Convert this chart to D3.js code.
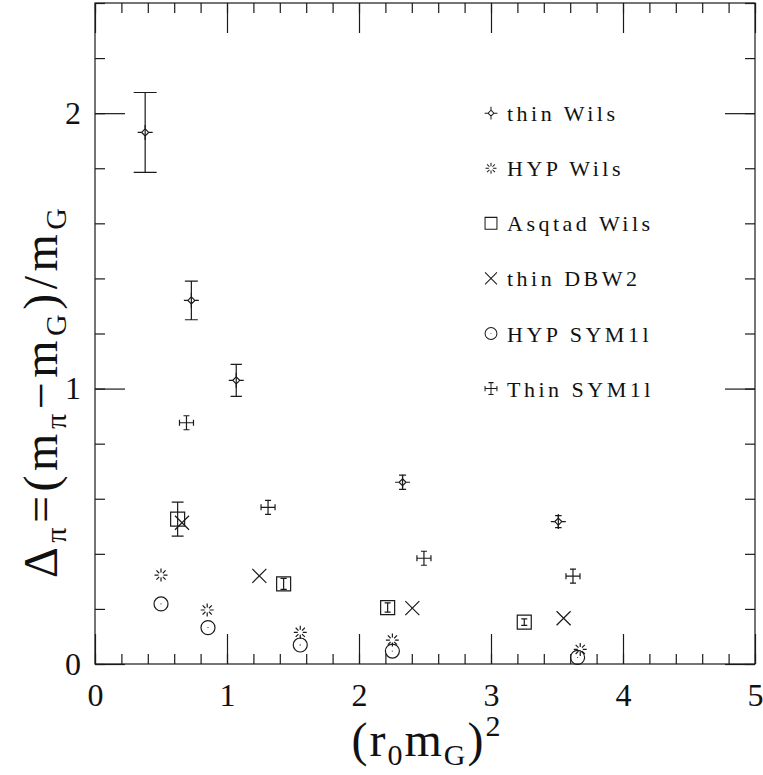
<!DOCTYPE html>
<html>
<head>
<meta charset="utf-8">
<script src="https://cdn.jsdelivr.net/npm/d3@7"></script>
<style>
body { margin: 0; background: #fff; }
svg { display: block; }
text { font-family: "Liberation Serif", serif; fill: #111; }
</style>
</head>
<body>
<div id="chart"></div>
<script>
// values
var thinWilsX = [0.38, 0.73, 1.07, 2.33, 3.51],
thinWilsY = [1.93, 1.32, 1.03, 0.66, 0.517],
thinWilsErr = [0.145, 0.07, 0.058, 0.026, 0.022];

var hypWilsX = [0.50, 0.85, 1.555, 2.253, 3.676],
hypWilsY = [0.323, 0.196, 0.115, 0.087, 0.053];

var asqtadX = [0.626, 1.429, 2.217, 3.252],
asqtadY = [0.526, 0.291, 0.205, 0.152],
asqtadErr = [0.062, 0.02, 0.017, 0.012];

var dbw2X = [0.659, 1.245, 2.404, 3.55],
dbw2Y = [0.513, 0.320, 0.203, 0.166];

var hypSymX = [0.50, 0.856, 1.555, 2.253, 3.656],
hypSymY = [0.218, 0.132, 0.069, 0.047, 0.024];

var thinSymX = [0.693, 1.311, 2.492, 3.621],
thinSymY = [0.876, 0.569, 0.384, 0.319];

var legendLabels = ["thin Wils", "HYP Wils", "Asqtad Wils", "thin DBW2", "HYP SYM1l", "Thin SYM1l"];
var xTicks = [0, 1, 2, 3, 4, 5],
yTicks = [0, 1, 2];

var margin = {top: 3, right: 8, bottom: 111, left: 95},
width = 763 - margin.left - margin.right,
height = 775 - margin.top - margin.bottom;

var x = d3.scaleLinear().domain([0, 5]).range([0, width]);
var y = d3.scaleLinear().domain([0, 2.4]).range([height, 0]);

var svg = d3.select("#chart").append("svg")
.attr("width", 763)
.attr("height", 775)
.append("g")
.attr("transform", "translate(" + margin.left + "," + margin.top + ")");

var ink = "#1a1a1a", lw = 1.2;

// frame
svg.append("rect")
.attr("width", width).attr("height", height)
.attr("fill", "none").attr("stroke", ink).attr("stroke-width", lw);

var xMinor = d3.range(0, 5.001, 0.2), yMinor = d3.range(0, 2.401, 0.2);

function styleAxis(g) {
g.select(".domain").remove();
g.selectAll("line").attr("stroke", ink).attr("stroke-width", lw);
g.selectAll("text").attr("font-family", "Liberation Serif").attr("font-size", 32).attr("fill", ink);
}

// ticks point inward on every side
svg.append("g").attr("transform", "translate(0," + height + ")")
.call(d3.axisBottom(x).tickValues(xMinor).tickSize(-10).tickFormat(""))
.call(styleAxis);
svg.append("g").attr("transform", "translate(0," + height + ")")
.call(d3.axisBottom(x).tickValues(xTicks).tickSize(-30).tickPadding(19).tickFormat(d3.format("d")))
.call(styleAxis);
svg.append("g")
.call(d3.axisTop(x).tickValues(xMinor).tickSize(-10).tickFormat(""))
.call(styleAxis);
svg.append("g")
.call(d3.axisTop(x).tickValues(xTicks).tickSize(-30).tickFormat(""))
.call(styleAxis);
svg.append("g")
.call(d3.axisLeft(y).tickValues(yMinor).tickSize(-10).tickFormat(""))
.call(styleAxis);
svg.append("g")
.call(d3.axisLeft(y).tickValues(yTicks).tickSize(-30).tickPadding(14).tickFormat(d3.format("d")))
.call(styleAxis);
svg.append("g").attr("transform", "translate(" + width + ",0)")
.call(d3.axisRight(y).tickValues(yMinor).tickSize(-10).tickFormat(""))
.call(styleAxis);
svg.append("g").attr("transform", "translate(" + width + ",0)")
.call(d3.axisRight(y).tickValues(yTicks).tickSize(-30).tickFormat(""))
.call(styleAxis);

// symbol shapes, centred on 0,0
var shapes = {
thinWils: "M0,-3.5L3.5,0L0,3.5L-3.5,0Z M0,-3.5V-7.5 M0,3.5V7.5 M-3.5,0H-7.5 M3.5,0H7.5",
hypWils: d3.range(8).map(function(k) {
    var a = k * Math.PI / 4, c = Math.cos(a), s = Math.sin(a);
    return "M" + (2.5 * c) + "," + (2.5 * s) + "L" + (6.5 * c) + "," + (6.5 * s);
}).join(" "),
asqtad: "M-7,-7H7V7H-7Z",
dbw2: "M-7,-7L7,7 M-7,7L7,-7",
hypSym: d3.arc()({innerRadius: 0, outerRadius: 7, startAngle: 0, endAngle: 2 * Math.PI}) + " M0,-0.4V0.4",
thinSym: "M-7,0H7 M0,-7V7 M-7,-3V3 M7,-3V3 M-3,-7H3 M-3,7H3"
};

var capScale = d3.scaleLinear().domain([10, 80]).range([6, 23]).clamp(true);

function errorBars(xs, ys, es) {
var g = svg.append("g").attr("stroke", ink).attr("stroke-width", lw).attr("fill", "none");
xs.forEach(function(xv, i) {
    var y0 = y(ys[i] - es[i]), y1 = y(ys[i] + es[i]), c = capScale(y0 - y1) / 2;
    g.append("path").attr("d",
        "M" + x(xv) + "," + y0 + "V" + y1 +
        "M" + (x(xv) - c) + "," + y0 + "H" + (x(xv) + c) +
        "M" + (x(xv) - c) + "," + y1 + "H" + (x(xv) + c));
});
}

function points(xs, ys, shape) {
svg.append("g").selectAll("path")
    .data(xs).enter().append("path")
    .attr("transform", function(d, i) { return "translate(" + x(d) + "," + y(ys[i]) + ")"; })
    .attr("d", shapes[shape])
    .attr("fill", "none").attr("stroke", ink).attr("stroke-width", lw);
}

errorBars(thinWilsX, thinWilsY, thinWilsErr);
errorBars(asqtadX, asqtadY, asqtadErr);
points(thinWilsX, thinWilsY, "thinWils");
points(hypWilsX, hypWilsY, "hypWils");
points(asqtadX, asqtadY, "asqtad");
points(dbw2X, dbw2Y, "dbw2");
points(hypSymX, hypSymY, "hypSym");
points(thinSymX, thinSymY, "thinSym");

// legend sits in data coordinates: x = 3, y = 2.0, 1.8, ...
var legendKeys = ["thinWils", "hypWils", "asqtad", "dbw2", "hypSym", "thinSym"];
var legend = svg.append("g").selectAll("g")
.data(legendLabels).enter().append("g")
.attr("transform", function(d, i) { return "translate(" + x(3) + "," + y(2 - 0.2 * i) + ")"; });
legend.append("path")
.attr("d", function(d, i) { return shapes[legendKeys[i]]; })
.attr("transform", "scale(0.85)")
.attr("fill", "none").attr("stroke", ink).attr("stroke-width", lw);
legend.append("text")
.attr("x", 16).attr("y", 8)
.attr("font-size", 22).attr("letter-spacing", 3.5)
.text(function(d) { return d; });

// axis titles
var xt = svg.append("text")
.attr("x", width / 2 + 2).attr("y", height + 92)
.attr("text-anchor", "middle").attr("font-size", 48).attr("letter-spacing", 2);
xt.append("tspan").text("(r");
xt.append("tspan").attr("font-size", 30).attr("dy", 9).text("0");
xt.append("tspan").attr("dy", -9).text("m");
xt.append("tspan").attr("font-size", 30).attr("dy", 9).text("G");
xt.append("tspan").attr("dy", -9).text(")");
xt.append("tspan").attr("font-size", 30).attr("dy", -20).text("2");

var yt = svg.append("text")
.attr("transform", "translate(" + (57 - margin.left) + "," + (578 - margin.top) + ") rotate(-90)")
.attr("font-size", 48).attr("letter-spacing", 4.5);
yt.append("tspan").text("\u0394");
yt.append("tspan").attr("font-size", 30).attr("dy", 9).text("\u03c0");
yt.append("tspan").attr("dy", -9).text("=(m");
yt.append("tspan").attr("font-size", 30).attr("dy", 9).text("\u03c0");
yt.append("tspan").attr("dy", -9).text("\u2212m");
yt.append("tspan").attr("font-size", 30).attr("dy", 9).text("G");
yt.append("tspan").attr("dy", -9).text(")/m");
yt.append("tspan").attr("font-size", 30).attr("dy", 9).text("G");
</script>
</body>
</html>
